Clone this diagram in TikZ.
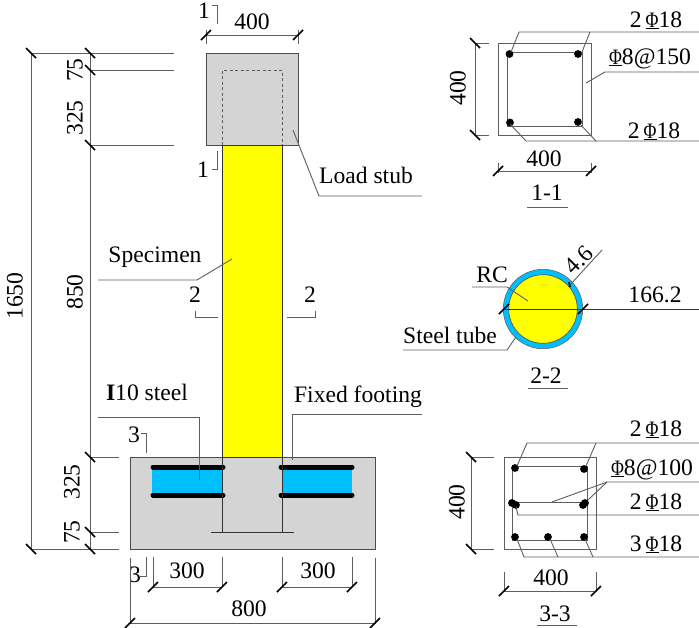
\documentclass[tikz,border=0pt]{standalone}
\usepackage{graphicx}
\usepackage{fontspec}
\setmainfont{Liberation Serif}
\newcommand{\bigfont}{\fontsize{23.6}{25}\selectfont}
\newcommand{\stl}{\underline{\scalebox{0.8}[1]{\fontsize{22}{22}\selectfont\char"03A6}}}
\definecolor{conc}{HTML}{D4D4D4}
\definecolor{tubeblue}{HTML}{00BFFF}
\definecolor{dimgray}{HTML}{5E5E5E}
\definecolor{ylw}{rgb}{1,1,0}
\tikzset{
  lbl/.style={font=\bigfont,inner sep=0pt,anchor=base,text=black},
  ctr/.style={font=\bigfont,inner sep=0pt,anchor=center,text=black},
  thin line/.style={draw=dimgray,line width=0.9pt},
  outline/.style={draw=black!70,line width=1pt},
  tick/.style={draw=black,line width=1.6pt},
  bar/.style={fill=black,draw=none},
}
\newcommand{\tkh}[2]{\draw[tick] (#1-5,#2+5) -- (#1+5,#2-5);}
\newcommand{\tkv}[2]{\draw[tick] (#1-5,#2-5) -- (#1+5,#2+5);}
\begin{document}
\begin{tikzpicture}[x=1pt,y=-1pt]
\useasboundingbox (0,0) rectangle (699,627);
\fill[white] (0,0) rectangle (699,627);
% ---------- main elevation
\filldraw[fill=conc,outline] (206,53) rectangle (298,145);
\draw[thin line,dashed,dash pattern=on 3pt off 2.5pt] (222,145) -- (222,70) -- (282,70) -- (282,145);
\filldraw[fill=conc,outline] (130,457) rectangle (375,549);
\filldraw[fill=ylw,draw=black!80,line width=1pt] (222,145) rectangle (282,457);
\draw[fill=tubeblue,draw=none] (152,467) rectangle (222,495);
\draw[fill=tubeblue,draw=none] (282,467) rectangle (352,495);
\draw[black,line width=5pt,line cap=round] (153,467) -- (223,467);
\draw[black,line width=5pt,line cap=round] (153,495) -- (223,495);
\draw[black,line width=5pt,line cap=round] (281,467) -- (352,467);
\draw[black,line width=5pt,line cap=round] (281,495) -- (352,495);
\draw[black!80,line width=0.9pt] (222,457) -- (222,532);
\draw[black!80,line width=0.9pt] (282,457) -- (282,532);
\draw[black!80,line width=0.9pt] (211,532) -- (294,532);
% dimensions left
\draw[thin line] (31,53) -- (31,549);
\draw[thin line] (90,53) -- (90,549);
\draw[thin line] (31,53) -- (174,53);
\draw[thin line] (90,70) -- (174,70);
\draw[thin line] (90,145) -- (174,145);
\draw[thin line] (90,457) -- (119,457);
\draw[thin line] (90,532) -- (119,532);
\draw[thin line] (31,549) -- (119,549);
\tkv{31}{53}\tkv{90}{53}\tkv{90}{70}\tkv{90}{145}\tkv{90}{457}\tkv{90}{532}\tkv{31}{549}\tkv{90}{549}
\node[ctr,rotate=90] (d75a) at (75,70) {75};
\node[ctr,rotate=90] (d325a) at (75,118) {325};
\node[ctr,rotate=90] (d850) at (75,292) {850};
\node[ctr,rotate=90] (d1650) at (15,296) {1650};
\node[ctr,rotate=90] (d325b) at (72,482) {325};
\node[ctr,rotate=90] (d75b) at (72,532) {75};
% top dim
\draw[thin line] (206,35) -- (298,35);
\draw[thin line] (206,30) -- (206,44);
\draw[thin line] (298,30) -- (298,44);
\tkh{206}{35}\tkh{298}{35}
\node[ctr] (d400t) at (252,22) {400};
% section marks
\draw[thin line] (212,5) -- (217.5,5) -- (217.5,24);
\draw[thin line] (217.5,151) -- (217.5,169) -- (212,169);
\node[ctr] (s1a) at (204,11) {1};
\node[ctr] (s1b) at (203,170) {1};
\draw[thin line] (195,311) -- (195,317) -- (218,317);
\draw[thin line] (287,317) -- (315,317) -- (315,311);
\node[ctr] (s2a) at (195,295) {2};
\node[ctr] (s2b) at (310,295) {2};
\draw[thin line] (141,433) -- (146,433) -- (146,453);
\draw[thin line] (146,557) -- (146,576) -- (140,576);
\node[ctr] (s3a) at (134,435) {3};
\node[ctr] (s3b) at (135,575) {3};
% leaders
\draw[thin line] (293,130) -- (319,196) -- (422,196);
\node[lbl] (load) at (366,183) {Load stub};
\draw[thin line] (232,259) -- (197,280) -- (98,280);
\node[lbl] (spec) at (155,262) {Specimen};
\draw[thin line] (98,417) -- (199,417) -- (199,480);
\node[lbl] (ibeam) at (147,400) {{\bfseries I}10 steel};
\draw[thin line] (422,414) -- (292,414) -- (292,460);
\node[lbl] (fixed) at (358,402) {Fixed footing};
% bottom dims
\draw[thin line] (153,557) -- (153,587);
\draw[thin line] (222,557) -- (222,587);
\draw[thin line] (282,557) -- (282,587);
\draw[thin line] (352,557) -- (352,587);
\draw[thin line] (153,587) -- (222,587);
\draw[thin line] (282,587) -- (352,587);
\tkh{153}{587}\tkh{222}{587}\tkh{282}{587}\tkh{352}{587}
\node[ctr] (d300a) at (187,571) {300};
\node[ctr] (d300b) at (318,571) {300};
\draw[thin line] (130,558) -- (130,623) -- (375,623) -- (375,558);
\tkh{130}{623}\tkh{375}{623}
\node[ctr] (d800) at (249,609) {800};
% ---------- section 1-1
\draw[thin line] (498,43) rectangle (591,135);
\draw[thin line] (507,52) rectangle (582,126);
\foreach \p in {(509.5,54),(578,54),(510,122.5),(578,122)} \fill[bar] \p circle (3.9);
\draw[thin line] (511,52) -- (519,32) -- (699,32);
\draw[thin line] (582,52) -- (590,32);
\draw[thin line] (586,83) -- (605,72) -- (699,72);
\draw[thin line] (510,124) -- (526,141) -- (699,141);
\draw[thin line] (580,124) -- (596,141);
\node[lbl] (a1) at (656,27) {2\,\stl18};
\node[lbl] (a2) at (650,64) {\stl8@150};
\node[lbl] (a3) at (654,138) {2\,\stl18};
\draw[thin line] (475,43) -- (489,43);
\draw[thin line] (475,135) -- (489,135);
\draw[thin line] (475,43) -- (475,135);
\tkv{475}{43}\tkv{475}{135}
\node[ctr,rotate=90] (d1v) at (458,88) {400};
\draw[thin line] (498,171) -- (591,171);
\draw[thin line] (498,163) -- (498,173);
\draw[thin line] (591,163) -- (591,173);
\tkh{498}{171}\tkh{591}{171}
\node[ctr] (d1h) at (544,159) {400};
\node[lbl] (t11) at (547,200) {1-1};
\draw[thin line] (527,207) -- (568,207);
% ---------- section 2-2
\fill[tubeblue] (543,309) circle (39.7);
\draw[black!60,line width=0.6pt] (543,309) circle (39.7);
\fill[ylw] (543,309) circle (34.3);
\draw[black!70,line width=0.6pt] (543,309) circle (34.3);
\draw[thin line,draw=black!80] (505,309) -- (699,309);
\tkh{504}{309}\tkh{583}{309}
\draw[thin line] (602,250) -- (570,285);
\draw[tick] (569,282) -- (570,287);
\node[ctr,rotate=45] (d46) at (579,260) {4.6};
\draw[thin line] (472,287) -- (507,287) -- (528,301);
\node[lbl] (rc) at (492,282) {RC};
\node[lbl] (d166) at (655,302) {166.2};
\draw[thin line] (403,350) -- (507,350) -- (516,337);
\node[lbl] (tube) at (450,343) {Steel tube};
\node[lbl] (t22) at (546,383) {2-2};
\draw[thin line] (528,388) -- (568,388);
% ---------- section 3-3
\draw[thin line] (504,457) rectangle (596,549);
\draw[thin line] (512,466) rectangle (587,540);
\draw[thin line] (515,502) -- (584,502);
\foreach \p in {(515,468),(584,469),(512,503),(516,505),(585,503),(583,505),(515,537),(548,537),(584,537)} \fill[bar] \p circle (3.9);
\draw[thin line] (517,466) -- (527,443) -- (699,443);
\draw[thin line] (586,466) -- (596,443);
\draw[thin line] (552,502) -- (607,482) -- (699,482);
\draw[thin line] (588,500) -- (607,482);
\draw[thin line] (516,507) -- (518,515) -- (699,515);
\draw[thin line] (517,539) -- (524,557) -- (699,557);
\draw[thin line] (550,539) -- (558,557);
\draw[thin line] (585,539) -- (593,557);
\node[lbl] (b1) at (656,436) {2\,\stl18};
\node[lbl] (b2) at (652,475) {\stl8@100};
\node[lbl] (b3) at (656,509) {2\,\stl18};
\node[lbl] (b4) at (656,551) {3\,\stl18};
\draw[thin line] (471,457) -- (494,457);
\draw[thin line] (471,549) -- (494,549);
\draw[thin line] (471,457) -- (471,549);
\tkv{471}{457}\tkv{471}{549}
\node[ctr,rotate=90] (d3v) at (457,502) {400};
\draw[thin line] (504,572) -- (504,591) -- (596,591) -- (596,572);
\tkh{504}{591}\tkh{596}{591}
\node[ctr] (d3h) at (551,578) {400};
\node[lbl] (t33) at (555,621) {3-3};
\draw[thin line] (537,625) -- (577,625);
\end{tikzpicture}
\end{document}
